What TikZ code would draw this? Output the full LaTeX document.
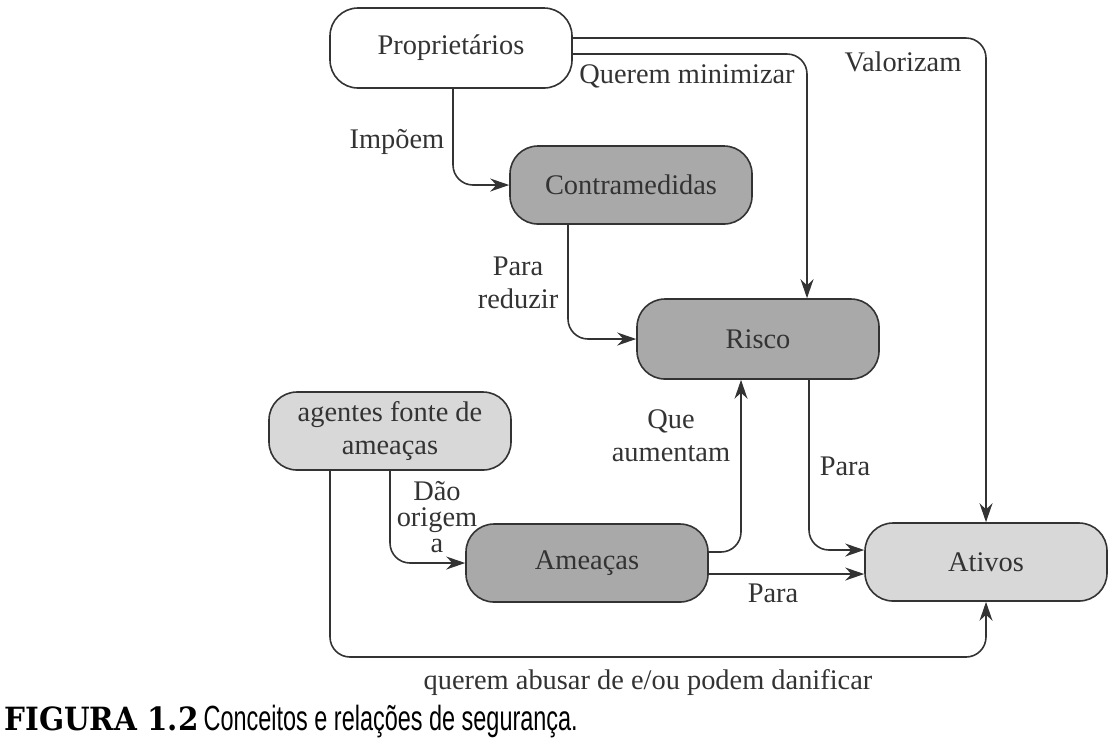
\documentclass[tikz,border=0pt]{standalone}
\usepackage{fontspec}
\setmainfont{Liberation Serif}
\newfontfamily\capsans[FakeStretch=0.67]{Liberation Sans}
\newfontfamily\capslab[FakeStretch=0.92]{DejaVu Serif}
\usetikzlibrary{arrows.meta,positioning}
\definecolor{linegray}{HTML}{333333}
\definecolor{darkfill}{HTML}{A9A9A9}
\definecolor{lightfill}{HTML}{D8D8D8}

\begin{document}
\begin{tikzpicture}[x=0.5pt, y=-0.5pt,
    main/.style = {draw=linegray, line width=0.8pt, rounded corners=14pt, minimum width=121pt, minimum height=39pt, align=center, text=linegray, font=\fontsize{14.2}{16.5}\selectfont},
    dark/.style = {main, fill=darkfill},
    light/.style = {main, fill=lightfill},
    lbl/.style = {text=linegray, align=center, inner sep=0pt, font=\fontsize{14.2}{16.5}\selectfont},
    conn/.style = {draw=linegray, line width=0.8pt, rounded corners=10pt, -{Stealth[length=9.5pt,width=6.5pt]}}]
    \useasboundingbox (0,0) rectangle (1112,752);
    % boxes
    \node[main, fill=white, minimum height=40pt] (1) at (451,48)  {Proprietários};
    \node[dark]  (2) at (631,185) {Contramedidas};
    \node[dark, minimum height=40pt]  (3) at (758,339) {Risco};
    \node[light] (4) at (390,431) {agentes fonte de\\ameaças};
    \node[dark]  (5) at (587,563) {Ameaças};
    \node[light] (6) at (986,562) {Ativos};
    \coordinate (7) at (330,657);
    % connectors
    \draw[conn] ([yshift=5pt]1.east) -| (6.north);
    \draw[conn] ([yshift=-3pt]1.east) -| ([xshift=24.5pt]3.north);
    \draw[conn] ([xshift=1pt]1.south) |- (2.west);
    \draw[conn] ([xshift=-31.5pt]2.south) |- (3.west);
    \draw[conn] (4.south) |- (5.west);
    \draw[conn] ([yshift=5.5pt]5.east) -| ([xshift=-8.5pt]3.south);
    \draw[conn] ([yshift=-5.5pt]5.east) -- ([yshift=-6pt]6.west);
    \draw[conn] ([xshift=25.5pt]3.south) |- ([yshift=6pt]6.west);
    \draw[conn] ([xshift=-30pt]4.south) -- (7) -| (6.south);
    % labels
    \node[lbl] (l1) at (903,62)  {Valorizam};
    \node[lbl] (l2) at (687,76)  {Querem minimizar};
    \node[lbl] (l3) at (397,142) {Impõem};
    \node[lbl] (l4) at (518,283) {Para\\reduzir};
    \node[lbl] (l5) at (671,436) {Que\\aumentam};
    \node[lbl, font=\fontsize{14.2}{12.8}\selectfont] (l6) at (437,517) {Dão\\origem\\a};
    \node[lbl] (l7) at (845,466) {Para};
    \node[lbl] (l8) at (773,593) {Para};
    \node[lbl] (l9) at (648,683) {querem abusar de e/ou podem danificar};
    % caption
    \node[anchor=base west, inner sep=0pt, text=black] (cap) at (4,730)
      {{\capslab\bfseries\fontsize{16}{19}\selectfont FIGURA 1.2} {\capsans\fontsize{17.5}{19}\selectfont Conceitos e relações de segurança.}};
\end{tikzpicture}
\end{document}
